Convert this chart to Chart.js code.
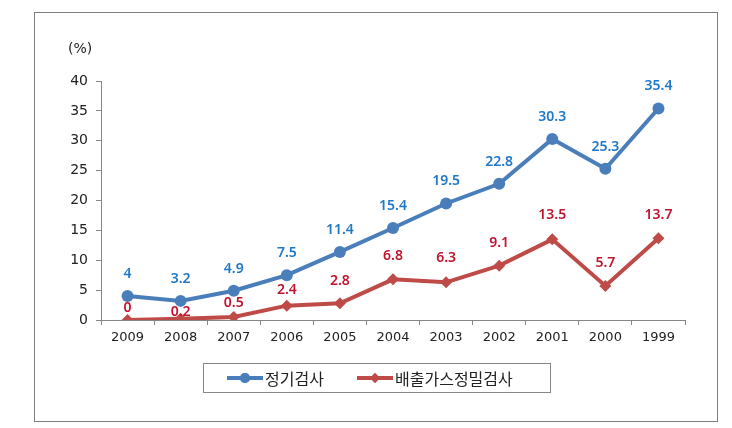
<!DOCTYPE html>
<html>
<head>
<meta charset="utf-8">
<script src="https://cdn.jsdelivr.net/npm/chart.js@4/dist/chart.umd.min.js"></script>
<style>
  body { margin: 0; background: #fff; }
  #wrap { width: 732px; height: 428px; }
</style>
</head>
<body>
<div id="wrap"><canvas id="myChart" width="732" height="428"></canvas></div>
<script>
// data
const years = ['2009', '2008', '2007', '2006', '2005', '2004', '2003', '2002', '2001', '2000', '1999'];
const regular = [4, 3.2, 4.9, 7.5, 11.4, 15.4, 19.5, 22.8, 30.3, 25.3, 35.4];
const precise = [0, 0.2, 0.5, 2.4, 2.8, 6.8, 6.3, 9.1, 13.5, 5.7, 13.7];
const seriesNames = ['정기검사', '배출가스정밀검사'];
const yTicks = [0, 5, 10, 15, 20, 25, 30, 35, 40];

const blue = '#4a7ebb';
const red = '#be4b48';
const axisGray = '#868686';

// value labels above points
const valueLabels = {
  id: 'valueLabels',
  afterDatasetsDraw(chart) {
    const ctx = chart.ctx;
    chart.data.datasets.forEach((ds, i) => {
      const meta = chart.getDatasetMeta(i);
      ctx.save();
      ctx.font = '600 14px "Noto Sans"';
      ctx.fillStyle = ds.labelColor;
      ctx.textAlign = 'center';
      ctx.textBaseline = 'middle';
      meta.data.forEach((pt, j) => {
        const off = ds.labelOffsets ? ds.labelOffsets[j] : 22;
        ctx.fillText(String(ds.data[j]), pt.x, pt.y - off);
      });
      ctx.restore();
    });
  }
};

// frame, unit label and boxed legend
const decor = {
  id: 'decor',
  afterDraw(chart) {
    const ctx = chart.ctx;
    ctx.save();
    ctx.strokeStyle = '#7f7f7f';
    ctx.lineWidth = 1;
    ctx.strokeRect(34.5, 12.5, 683, 409);

    ctx.fillStyle = '#222';
    ctx.font = '14px "DejaVu Sans"';
    ctx.textAlign = 'left';
    ctx.textBaseline = 'middle';
    ctx.fillText('(%)', 68, 49);

    // legend box
    ctx.strokeStyle = axisGray;
    ctx.strokeRect(203.5, 363.5, 347, 29);

    const items = [
      { x: 227, color: blue, style: 'circle' },
      { x: 357, color: red, style: 'rectRot' }
    ];
    const ly = 378;
    items.forEach((it, i) => {
      ctx.strokeStyle = it.color;
      ctx.lineWidth = 4;
      ctx.beginPath();
      ctx.moveTo(it.x, ly);
      ctx.lineTo(it.x + 36, ly);
      ctx.stroke();
      ctx.fillStyle = it.color;
      Chart.helpers.drawPoint(ctx, { pointStyle: it.style, radius: 5, borderWidth: 0 }, it.x + 18, ly);
      ctx.fill();
      ctx.fillStyle = '#222';
      ctx.font = '16px "Noto Sans CJK KR"';
      ctx.fillText(seriesNames[i], it.x + 38, ly + 1);
    });
    ctx.restore();
  }
};

const data = {
  labels: years,
  datasets: [{
    label: seriesNames[0],
    data: regular,
    borderColor: blue,
    backgroundColor: blue,
    borderWidth: 4,
    pointStyle: 'circle',
    pointRadius: 6,
    pointBorderWidth: 0,
    labelColor: '#1f78c8',
    tension: 0
  }, {
    label: seriesNames[1],
    data: precise,
    borderColor: red,
    backgroundColor: red,
    borderWidth: 4,
    pointStyle: 'rectRot',
    pointRadius: 6,
    pointBorderWidth: 0,
    labelColor: '#c0152f',
    labelOffsets: [12, 7, 14, 16, 22, 23, 24, 23, 24, 23, 23],
    tension: 0
  }]
};

const config = {
  type: 'line',
  data: data,
  options: {
    responsive: false,
    animation: false,
    layout: {
      padding: { left: 41, right: 47, top: 81, bottom: 78 }
    },
    scales: {
      x: {
        offset: true,
        grid: {
          offset: true,
          drawOnChartArea: false,
          drawTicks: true,
          tickLength: 5,
          color: axisGray
        },
        border: { color: axisGray },
        ticks: {
          color: '#222',
          font: { family: 'DejaVu Sans', size: 13 },
          padding: 5,
          maxRotation: 0
        },
        afterFit(scale) { scale.height = 30; }
      },
      y: {
        min: 0,
        max: 40,
        afterBuildTicks(scale) { scale.ticks = yTicks.map(v => ({ value: v })); },
        grid: {
          drawOnChartArea: false,
          drawTicks: true,
          tickLength: 5,
          color: axisGray
        },
        border: { color: axisGray },
        ticks: {
          color: '#222',
          font: { family: 'DejaVu Sans', size: 14 },
          padding: 8
        },
        afterFit(scale) { scale.width = 60; }
      }
    },
    plugins: {
      legend: { display: false },
      title: { display: false },
      tooltip: { enabled: false }
    }
  },
  plugins: [valueLabels, decor]
};

const myChart = new Chart(document.getElementById('myChart'), config);
</script>
</body>
</html>
